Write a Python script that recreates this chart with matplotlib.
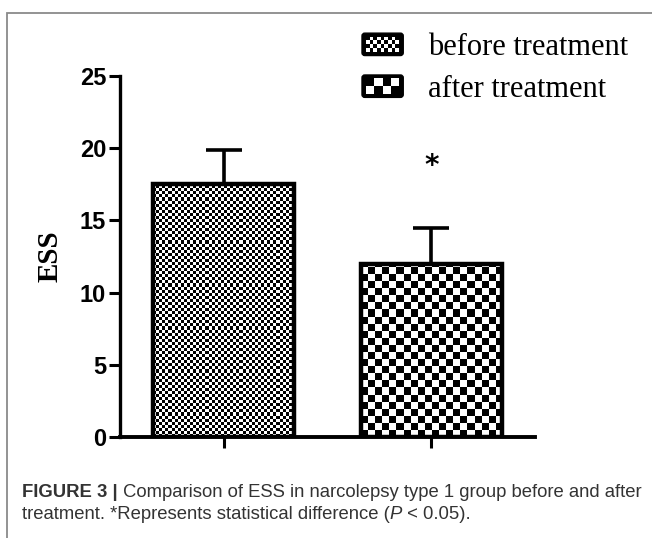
import numpy as np
import matplotlib
matplotlib.use("Agg")
import matplotlib.pyplot as plt
from matplotlib.patches import Rectangle, FancyBboxPatch
from matplotlib.legend_handler import HandlerBase

# data
groups = ["before treatment", "after treatment"]
ess_mean = [17.5, 12.0]
ess_err = [2.4, 2.5]
check_cols = [46, 20]          # checker cells across each bar (fine / coarse)
legend_grid = [(4, 9), (2, 4)]  # checker cells inside the legend keys
y_ticks = [0, 5, 10, 15, 20, 25]
caption_bold = "FIGURE 3 | "
caption_line1 = "Comparison of ESS in narcolepsy type 1 group before and after"
caption_line2 = "treatment. *Represents statistical difference ("

W, H = 652, 538
fig = plt.figure(figsize=(W / 100, H / 100), dpi=100)
fig.patch.set_facecolor("white")

# grey frame round the figure panel
fig.patches.append(Rectangle((7 / W, -0.2), 2.0, 1 - 13 / H + 0.2,
                             transform=fig.transFigure, fill=False,
                             edgecolor="#8a8a8a", linewidth=1.3))

ax = fig.add_axes([120 / W, 1 - 437 / H, 415 / W, 361 / H])
x = np.arange(len(groups))
bars = ax.bar(x, ess_mean, width=0.68, facecolor="none",
              edgecolor="black", linewidth=3.2, zorder=3)
ax.errorbar(x, ess_mean, yerr=[[0, 0], ess_err], fmt="none", ecolor="black",
            elinewidth=2.6, capsize=13, capthick=2.6, zorder=2)

ax.set_xlim(-0.5, 1.5)
ax.set_ylim(0, 25)

# checkerboard fill, clipped to each bar
fig.canvas.draw()
for bar, ncols in zip(bars, check_cols):
    bx, bw, bh = bar.get_x(), bar.get_width(), bar.get_height()
    p0 = ax.transData.transform((bx, 0))
    p1 = ax.transData.transform((bx + bw, bh))
    cell_px = (p1[0] - p0[0]) / ncols
    nrows = int(np.ceil((p1[1] - p0[1]) / cell_px))
    ii, jj = np.indices((nrows, ncols))
    board = ((ii + jj) % 2).astype(float)
    top = bh * nrows * cell_px / (p1[1] - p0[1])
    im = ax.imshow(board, cmap="gray", vmin=0, vmax=1,
                   extent=(bx, bx + bw, 0, top),
                   origin="lower", interpolation="nearest", aspect="auto",
                   zorder=2.5)
    im.set_clip_path(bar)
ax.set_xlim(-0.5, 1.5)
ax.set_ylim(0, 25)

ax.text(x[1], ess_mean[1] + ess_err[1] + 4.3, "*", ha="center", va="center",
        fontsize=20, fontweight="bold")

for s in ["top", "right"]:
    ax.spines[s].set_visible(False)
ax.spines["left"].set_linewidth(2.4)
ax.spines["bottom"].set_linewidth(2.8)
ax.set_yticks(y_ticks)
ax.set_xticks(x)
ax.set_xticklabels([])
ax.tick_params(axis="y", length=8, width=2.2, pad=2, labelsize=17)
ax.tick_params(axis="x", direction="out", length=8, width=2.2)
for lab in ax.get_yticklabels():
    lab.set_fontweight("bold")
    lab.set_family("Liberation Sans")
ax.set_ylabel("ESS", family="Liberation Serif", fontweight="bold",
              fontsize=21, labelpad=12)


class CheckerKey(HandlerBase):
    def __init__(self, grid):
        super().__init__()
        self.grid = grid

    def create_artists(self, legend, orig_handle, xdescent, ydescent,
                       width, height, fontsize, trans):
        nr, nc = self.grid
        arts = [FancyBboxPatch((-xdescent, -ydescent), width, height,
                               boxstyle="round,pad=0,rounding_size=2",
                               facecolor="black", edgecolor="black",
                               transform=trans)]
        mx, my = width * 0.1, height * 0.15
        cw = (width - 2 * mx) / nc
        ch = (height - 2 * my) / nr
        for i in range(nr):
            for j in range(nc):
                if (i + j) % 2 == 0:
                    arts.append(Rectangle((-xdescent + mx + j * cw,
                                           -ydescent + my + i * ch), cw, ch,
                                          facecolor="white", linewidth=0,
                                          transform=trans))
        return arts


handles = [Rectangle((0, 0), 1, 1), Rectangle((0, 0), 1, 1)]
fig.legend(handles, groups, loc="upper left",
           bbox_to_anchor=(362 / W, 1 - 33 / H), frameon=False,
           prop={"family": "Liberation Serif", "size": 22},
           handlelength=1.35, handleheight=0.75, handletextpad=0.8,
           labelspacing=0.42, borderpad=0, borderaxespad=0,
           handler_map={handles[0]: CheckerKey(legend_grid[0]),
                        handles[1]: CheckerKey(legend_grid[1])})

# caption with bold lead-in
cap_kw = dict(family="Liberation Sans", fontsize=13.3, color="#333333",
              va="baseline", ha="left")
t0 = fig.text(22 / W, 1 - 497 / H, caption_bold, fontweight="bold", **cap_kw)
fig.canvas.draw()
r = fig.canvas.get_renderer()
bb = t0.get_window_extent(r)
fig.text(bb.x1 / W, 1 - 497 / H, caption_line1, **cap_kw)
t2 = fig.text(22 / W, 1 - 519 / H, caption_line2, **cap_kw)
bb2 = t2.get_window_extent(r)
t3 = fig.text(bb2.x1 / W, 1 - 519 / H, "P", style="italic", **cap_kw)
bb3 = t3.get_window_extent(r)
fig.text(bb3.x1 / W, 1 - 519 / H, " < 0.05).", **cap_kw)

fig.savefig("out.png", dpi=100)
